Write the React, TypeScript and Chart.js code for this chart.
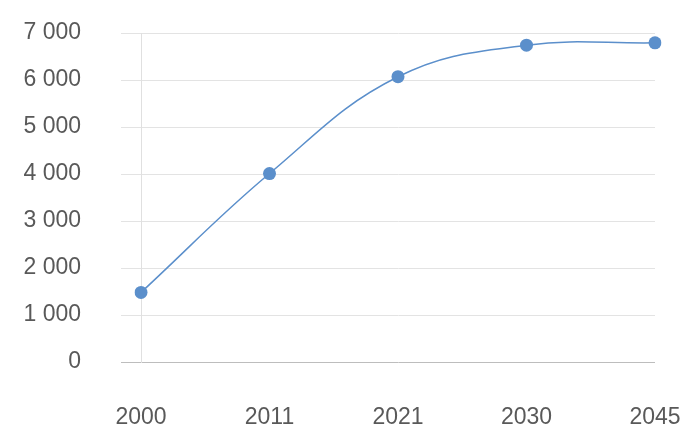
import React, { useEffect, useRef } from "react";
import { Chart, registerables } from "chart.js";

Chart.register(...registerables);

const categories = ["2000", "2011", "2021", "2030", "2045"];
const values = [1480, 4010, 6070, 6740, 6790];
const yMin = 0;
const yMax = 7000;
const yStep = 1000;

const fmt = (v: number) => String(v).replace(/\B(?=(\d{3})+(?!\d))/g, " ");

export default function App() {
  const ref = useRef<HTMLCanvasElement | null>(null);
  useEffect(() => {
    if (!ref.current) return;
    const color = "#5B8FCB";
    const font = { family: "'Liberation Sans', Arial, Helvetica, sans-serif", size: 23 };
    const chart = new Chart(ref.current, {
      type: "line",
      data: {
        labels: categories,
        datasets: [
          {
            data: values,
            borderColor: color,
            backgroundColor: color,
            borderWidth: 1.5,
            pointRadius: 6.5,
            pointHoverRadius: 6.5,
            pointBackgroundColor: color,
            pointBorderWidth: 0,
            tension: 0.4,
            fill: false,
          },
        ],
      },
      options: {
        animation: false,
        responsive: false,
        maintainAspectRatio: false,
        devicePixelRatio: 1,
        layout: { padding: { left: 23, right: 45, top: 33, bottom: 16 } },
        plugins: { legend: { display: false }, tooltip: { enabled: false } },
        scales: {
          x: {
            offset: false,
            grid: { display: false },
            border: { display: false },
            ticks: { color: "#595959", font, padding: 34, maxRotation: 0 },
            afterFit: (s: any) => {
              s.height = 67;
              s.paddingLeft = 0;
              s.paddingRight = 0;
            },
          },
          y: {
            min: yMin,
            max: yMax,
            ticks: {
              stepSize: yStep,
              color: "#595959",
              font,
              padding: 40,
              callback: (v: any) => fmt(Number(v)),
            },
            grid: {
              color: (ctx: any) => (ctx.tick && ctx.tick.value === 0 ? "#bdbdbd" : "#e3e3e3"),
              lineWidth: 1,
              drawTicks: true,
              tickLength: 20,
            },
            border: { display: true, color: "#e0e0e0", width: 1 },
            afterFit: (s: any) => {
              s.width = 118;
              s.paddingTop = 0;
              s.paddingBottom = 0;
            },
          },
        },
      },
    });
    return () => chart.destroy();
  }, []);
  return (
    <div style={{ position: "fixed", left: 0, top: 0, width: 700, height: 445, background: "#fff" }}>
      <canvas ref={ref} width={700} height={445} style={{ display: "block", width: 700, height: 445 }} />
    </div>
  );
}
